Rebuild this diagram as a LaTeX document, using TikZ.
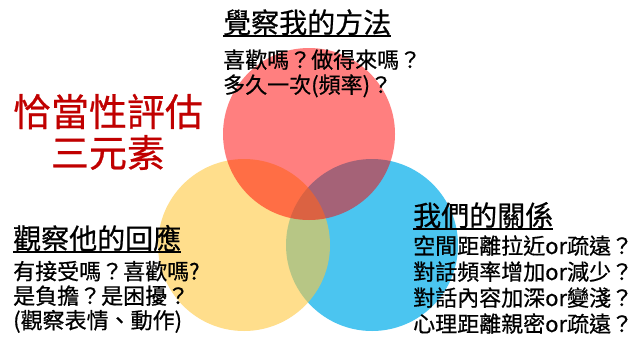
\documentclass[tikz,border=0pt]{standalone}
\usepackage{fontspec}
\setmainfont{Noto Sans CJK TC}[FakeBold=0.6]
\usepackage{tikz}
\definecolor{ringred}{RGB}{255,0,0}
\definecolor{ringyellow}{RGB}{255,200,63}
\definecolor{ringblue}{RGB}{75,197,240}
\definecolor{titlered}{RGB}{192,0,0}
\tikzset{ring/.style={draw=none}}
\tikzset{head/.style={inner sep=0pt,anchor=base west,font=\fontsize{28}{32}\selectfont}}
\tikzset{body/.style={inner sep=0pt,anchor=base west,font=\fontsize{22}{25}\selectfont}}
\tikzset{big/.style={inner sep=0pt,anchor=base,text=titlered,font=\fontsize{38}{42}\selectfont}}

\begin{document}
\begin{tikzpicture}[x=1pt,y=-1pt]
\useasboundingbox (0,0) rectangle (636,340);

% three rings
\coordinate (cr) at (309,134);
\coordinate (cy) at (244,245);
\coordinate (cb) at (372,245);
\fill[ring,ringblue] (cb) circle (86);
\fill[ring,ringyellow,fill opacity=0.6] (cy) circle (86);
\fill[ring,ringred,fill opacity=0.5] (cr) circle (86);

% big title
\node[big] (T1) at (108,126) {恰當性評估};
\node[big] (T2) at (108,167) {三元素};

% top group
\node[head] (H1) at (223,33) {覺察我的方法};
\draw[line width=1.2pt] ([yshift=-3pt]H1.base west) -- ([yshift=-3pt]H1.base east);
\foreach \t [count=\k] in {喜歡嗎？做得來嗎？, 多久一次(頻率)？} {
	\node[body] (a\k) at (223,43+25*\k) {\t};
	}

% left group
\node[head] (H2) at (13,249) {觀察他的回應};
\draw[line width=1.2pt] ([yshift=-3pt]H2.base west) -- ([yshift=-3pt]H2.base east);
\foreach \t [count=\k] in {有接受嗎？喜歡嗎?, 是負擔？是困擾？, (觀察表情、動作)} {
	\node[body] (b\k) at (13,255+24.5*\k) {\t};
	}

% right group
\node[head] (H3) at (413,226) {我們的關係};
\draw[line width=1.2pt] ([yshift=-3pt]H3.base west) -- ([yshift=-3pt]H3.base east);
\foreach \t [count=\k] in {空間距離拉近or疏遠？, 對話頻率增加or減少？, 對話內容加深or變淺？, 心理距離親密or疏遠？} {
	\node[body] (c\k) at (413,228+26*\k) {\t};
	}
\end{tikzpicture}
\end{document}
